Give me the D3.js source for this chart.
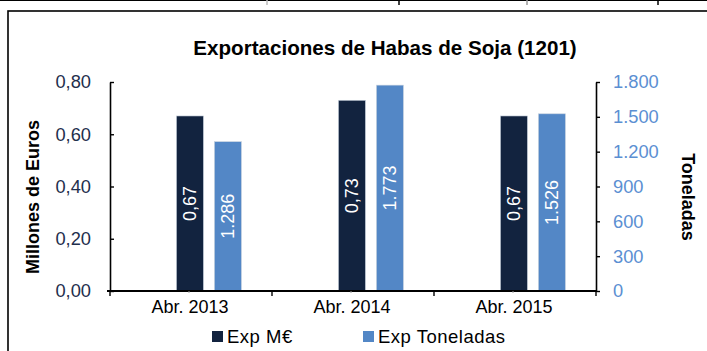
<!DOCTYPE html>
<html>
<head>
<meta charset="utf-8">
<script src="https://cdn.jsdelivr.net/npm/d3@7"></script>
<style>
  html, body { margin: 0; padding: 0; background: #fff; }
  svg { display: block; font-family: "Liberation Sans", Arial, sans-serif; }
</style>
</head>
<body>
<svg id="chart" width="707" height="351"></svg>
<script>
// Export data, April of each year
const categories = ["Abr. 2013", "Abr. 2014", "Abr. 2015"];
const expMillonesEuros = [0.67, 0.73, 0.67];
const expToneladas = [1286, 1773, 1526];
const leftTicks = [0, 0.2, 0.4, 0.6, 0.8];
const rightTicks = [0, 300, 600, 900, 1200, 1500, 1800];
const seriesNames = ["Exp M€", "Exp Toneladas"];
const seriesColors = ["#12233f", "#5387c6"];

const esLocale = d3.formatLocale({ decimal: ",", thousands: ".", grouping: [3], currency: ["", " €"] });
const fmtEuro = esLocale.format(".2f");
const fmtTon = esLocale.format(",.0f");

const svg = d3.select("#chart");
const W = 707, H = 351;

// Frame lines around the chart area
svg.append("line").attr("x1", 0).attr("x2", W).attr("y1", 0.5).attr("y2", 0.5)
  .attr("stroke", "#000").attr("stroke-width", 1.2);
[[267, "#bbb"], [399, "#000"], [527, "#999"], [658, "#000"]].forEach(([x, c]) => {
  svg.append("line").attr("x1", x).attr("x2", x).attr("y1", 0).attr("y2", 5)
    .attr("stroke", c).attr("stroke-width", 1.5);
});
svg.append("rect").attr("x", 8).attr("y", 11).attr("width", W + 20).attr("height", H + 20)
  .attr("fill", "none").attr("stroke", "#000").attr("stroke-width", 1.6);

// Plot area
const x0 = 110, x1 = 596, yTop = 82, yBot = 291;

const xBand = d3.scaleBand().domain(categories).range([x0, x1]).padding(0);
const bw = xBand.bandwidth();
const xInner = d3.scaleBand().domain(seriesNames)
  .range([bw * 0.41, bw * 0.41 + 65]).paddingInner(0.289).paddingOuter(0);

const yLeft = d3.scaleLinear().domain([0, 0.8]).range([yBot, yTop]);
const yRight = d3.scaleLinear().domain([0, 1800]).range([yBot, yTop]);

// Title
svg.append("text").attr("x", 385).attr("y", 55).attr("text-anchor", "middle")
  .attr("font-size", 20.6).attr("font-weight", "bold").attr("fill", "#000")
  .text("Exportaciones de Habas de Soja (1201)");

// Bars
const rows = categories.map((c, i) => ({ c, m: expMillonesEuros[i], t: expToneladas[i] }));

const g = svg.append("g");
rows.forEach(r => {
  const bx = xBand(r.c);
  const specs = [
    { name: seriesNames[0], y: yLeft(r.m), color: seriesColors[0], label: fmtEuro(r.m) },
    { name: seriesNames[1], y: yRight(r.t), color: seriesColors[1], label: fmtTon(r.t) }
  ];
  specs.forEach(s => {
    const x = bx + xInner(s.name);
    g.append("rect").attr("x", x).attr("y", s.y)
      .attr("width", xInner.bandwidth()).attr("height", yBot - s.y)
      .attr("fill", s.color).attr("stroke", "#c9d2de").attr("stroke-width", 0.6);
    const cx = x + xInner.bandwidth() / 2, cy = (s.y + yBot) / 2;
    g.append("text").attr("transform", `translate(${cx},${cy}) rotate(-90)`)
      .attr("text-anchor", "middle").attr("dy", "0.35em")
      .attr("font-size", 18).attr("fill", "#fff").text(s.label);
  });
});

// Left axis (ticks pointing inward)
const axL = svg.append("g").attr("transform", `translate(${x0},0)`)
  .call(d3.axisLeft(yLeft).tickValues(leftTicks).tickSize(-4).tickSizeOuter(0).tickFormat(fmtEuro));
axL.select(".domain").attr("stroke", "#000").attr("stroke-width", 1.6);
axL.selectAll(".tick line").attr("stroke", "#000").attr("stroke-width", 1.4);
axL.selectAll(".tick text").attr("x", -19).attr("font-size", 18.3)
  .attr("fill", "#1f2f4d").attr("font-family", "Liberation Sans, Arial, sans-serif");

// Right axis (ticks pointing outward)
const axR = svg.append("g").attr("transform", `translate(${x1},0)`)
  .call(d3.axisRight(yRight).tickValues(rightTicks).tickSize(4).tickSizeOuter(0).tickFormat(fmtTon));
axR.select(".domain").attr("stroke", "#000").attr("stroke-width", 1.6);
axR.selectAll(".tick line").attr("stroke", "#000").attr("stroke-width", 1.4);
axR.selectAll(".tick text").attr("x", 17).attr("font-size", 18.3)
  .attr("fill", "#5b8fd2").attr("font-family", "Liberation Sans, Arial, sans-serif");

// Category axis with ticks on band boundaries
const axB = svg.append("g").attr("transform", `translate(0,${yBot})`)
  .call(d3.axisBottom(xBand).tickSize(0).tickPadding(0));
axB.select(".domain").remove();
svg.append("line").attr("x1", x0 - 3).attr("x2", x1 + 1).attr("y1", yBot).attr("y2", yBot)
  .attr("stroke", "#000").attr("stroke-width", 2);
const boundaries = categories.map(c => xBand(c)).concat([x1]);
boundaries.forEach(bx => {
  svg.append("line").attr("x1", bx).attr("x2", bx).attr("y1", yBot).attr("y2", yBot + 5)
    .attr("stroke", "#000").attr("stroke-width", 1.4);
});
categories.forEach(c => {
  const cx = xBand(c) + bw / 2 - 2;
  svg.append("line").attr("x1", cx).attr("x2", cx).attr("y1", yBot).attr("y2", yBot + 2)
    .attr("stroke", "#999").attr("stroke-width", 1);
});
axB.selectAll(".tick text").attr("y", 22).attr("dy", 0).attr("font-size", 18)
  .attr("fill", "#000").attr("font-family", "Liberation Sans, Arial, sans-serif")
  .attr("transform", "translate(-1,0)");

// Axis titles
svg.append("text").attr("transform", "translate(39,197) rotate(-90)")
  .attr("text-anchor", "middle").attr("font-size", 18).attr("font-weight", "bold")
  .attr("fill", "#000").text("Millones de Euros");
svg.append("text").attr("transform", "translate(682,197) rotate(90)")
  .attr("text-anchor", "middle").attr("font-size", 18).attr("font-weight", "bold")
  .attr("fill", "#000").text("Toneladas");

// Legend
const legendX = [212, 363];
seriesNames.forEach((n, i) => {
  svg.append("rect").attr("x", legendX[i]).attr("y", 331).attr("width", 11).attr("height", 11)
    .attr("fill", seriesColors[i]);
  svg.append("text").attr("x", legendX[i] + 15).attr("y", 342.5).attr("font-size", 18.5)
    .attr("letter-spacing", 0.5).attr("fill", "#000").text(n);
});
</script>
</body>
</html>
